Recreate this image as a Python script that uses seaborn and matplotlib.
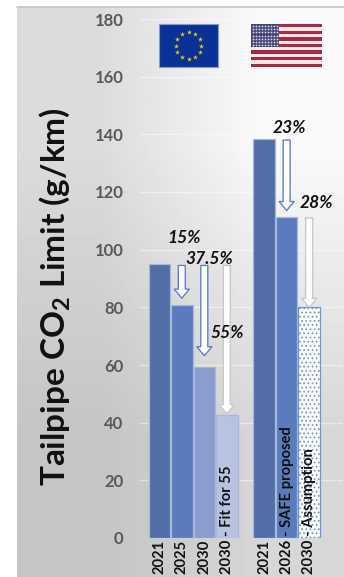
import numpy as np
import pandas as pd
import matplotlib
matplotlib.use("Agg")
import matplotlib.pyplot as plt
from matplotlib.patches import FancyArrowPatch, Rectangle
import seaborn as sns

# CO2 limits per regulation step
eu_labels = ["2021", "2025", "2030", "2030 - Fit for 55"]
us_labels = ["2021", "2026 - SAFE proposed", "2030 - Assumption"]
eu_values = [95, 80.75, 59.4, 42.75]
us_values = [138.5, 111.5, 80]
bar_colors = ["#4f6fa6", "#5a7cbe", "#8b9ccf", "#b8c3e1", "#4f6fa6", "#5a7cbe", "#ffffff"]

# Reduction steps: bar index, reference level, percent text
step_bars = [1, 2, 3, 5, 6]
step_refs = [95, 95, 95, 138.5, 111.5]
step_text = ["15%", "37.5%", "55%", "23%", "28%"]

W, H = 344, 577
PX = 0.72  # points per pixel at dpi 100


def fig_rect(x0, y0, x1, y1):
    return [x0 / W, 1 - y1 / H, (x1 - x0) / W, (y1 - y0) / H]


sns.set_style("white")
plt.rcParams["font.family"] = ["Lato", "DejaVu Sans"]
plt.rcParams["mathtext.fontset"] = "custom"
plt.rcParams["mathtext.bf"] = "Lato:bold"
plt.rcParams["hatch.linewidth"] = 0.8

fig = plt.figure(figsize=(W / 100, H / 100), dpi=100, facecolor="white")

# Grey gradient panel behind the chart
bg = fig.add_axes(fig_rect(17, 7, 344, 577), zorder=0)
bg.imshow([[0.86, 0.98], [0.77, 0.84]], cmap="gray", vmin=0, vmax=1,
          interpolation="bilinear", aspect="auto")
bg.axis("off")
fig.add_artist(plt.Line2D([17 / W, 1], [1 - 7 / H, 1 - 7 / H], color="#c4c4c4", lw=1.2))

# Bars
GAP = 0.66
labels = eu_labels + us_labels
values = eu_values + us_values
positions = list(np.arange(len(eu_labels), dtype=float)) + \
    list(np.arange(len(us_labels)) + len(eu_labels) + GAP)
df = pd.DataFrame({"pos": positions, "limit": values, "key": [str(i) for i in range(len(values))]})

ax = fig.add_axes(fig_rect(140, 19, 342, 538), zorder=1)
ax.patch.set_alpha(0)
sns.barplot(data=df, x="pos", y="limit", hue="key", palette=bar_colors, dodge=False,
            native_scale=True, width=0.96, legend=False, saturation=1, ax=ax, zorder=3)
bars = [p for p in ax.patches]
for i, b in enumerate(bars):
    b.set_edgecolor("#a9b8da" if i < 6 else "#6a97e0")
    b.set_linewidth(0.9)
bars[-1].set_hatch("....")

ax.set_xlim(-0.858, 8.12)
ax.set_ylim(0, 180)
ax.set_yticks(np.arange(0, 181, 20))
ax.set_xticks([])
ax.set_xlabel("")
ax.set_ylabel("")
ax.grid(axis="y", color="white", ls=(0, (1, 1)), lw=1.0, alpha=0.9)
ax.set_axisbelow(True)
sns.despine(ax=ax, left=True, bottom=True, right=True, top=True)

ax.tick_params(axis="y", length=0, pad=12, labelsize=12, labelcolor="#595959")
for t in ax.get_yticklabels():
    t.set_fontweight("bold")

# Category labels run up over the bars, so they live on a layer above them
lab_ax = fig.add_axes(fig_rect(140, 19, 342, 538), zorder=1.5)
lab_ax.patch.set_alpha(0)
lab_ax.set_xlim(ax.get_xlim())
lab_ax.set_ylim(ax.get_ylim())
lab_ax.set_yticks([])
lab_ax.set_xticks(positions)
lab_ax.set_xticklabels(labels)
sns.despine(ax=lab_ax, left=True, bottom=True, right=True, top=True)
lab_ax.tick_params(axis="x", length=0, pad=36.5 * PX, labelsize=10.6, labelcolor="#111111")
for t in lab_ax.get_xticklabels():
    t.set_rotation(90)
    t.set_va("bottom")
    t.set_ha("center")
    t.set_fontweight("bold")

# Reduction arrows from the reference level down to each bar
edge_cols = ["#5b82cc", "#5b82cc", "#c9c9c9", "#5b82cc", "#c9c9c9"]
tip_gaps = [7, 11, 1, 6, 0]
for idx, ref, col, gap in zip(step_bars, step_refs, edge_cols, tip_gaps):
    arrow = FancyArrowPatch(
        (positions[idx], ref), (positions[idx], values[idx]),
        arrowstyle=f"simple,head_length={9 * PX},head_width={15 * PX},tail_width={7 * PX}",
        mutation_scale=1, shrinkA=1, shrinkB=gap * PX,
        facecolor="white", edgecolor=col, linewidth=1.0, zorder=5)
    lab_ax.add_patch(arrow)

# Percent captions, placed relative to their arrows
offsets = [(2, 26), (5, 5), (0, -69), (3, 11), (7, 14)]
for idx, ref, txt, off in zip(step_bars, step_refs, step_text, offsets):
    lab_ax.annotate(txt, (positions[idx], ref), xytext=(off[0] * PX, off[1] * PX),
                    textcoords="offset points", ha="center", va="center",
                    fontsize=12.5, fontweight="bold", fontstyle="italic",
                    color="#111111", zorder=7)

fig.text(55 / W, 1 - 297 / H, r"Tailpipe CO$_{\mathbf{2}}$ Limit (g/km)", rotation=90,
         ha="center", va="center", fontsize=24, fontweight="bold", color="#111111", zorder=3)

# EU flag
eu = fig.add_axes(fig_rect(159, 24, 218, 67), zorder=2)
eu.set_xlim(-1.37, 1.37)
eu.set_ylim(-1, 1)
eu.set_facecolor("#0a3296")
angles = np.deg2rad(np.arange(0, 360, 30))
eu.scatter(0.6 * np.cos(angles), 0.6 * np.sin(angles) * 1.05, marker="*", s=14,
           color="#f2c80f", linewidth=0)
eu.set_xticks([])
eu.set_yticks([])
for s in eu.spines.values():
    s.set_color("#7f9bd6")

# US flag
us = fig.add_axes(fig_rect(251, 24, 322, 67), zorder=2)
us.set_xlim(0, 1)
us.set_ylim(13, 0)
for k in range(13):
    us.add_patch(Rectangle((0, k), 1, 1, color="#a92a40" if k % 2 == 0 else "#f6e9ea", lw=0))
us.add_patch(Rectangle((0, 0), 0.4, 7, color="#45457a", lw=0))
sx, sy = np.meshgrid(np.linspace(0.03, 0.37, 9), np.linspace(0.6, 6.4, 7))
us.scatter(sx, sy, s=1.6, color="#dcdcec", linewidth=0)
us.axis("off")

fig.savefig("out.png", dpi=100)
